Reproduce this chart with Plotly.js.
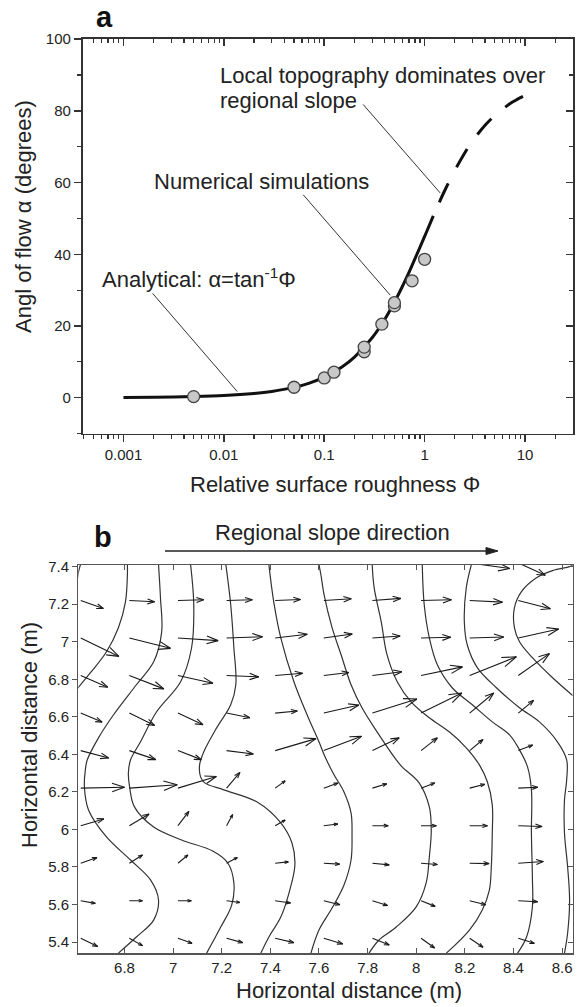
<!DOCTYPE html>
<html><head><meta charset="utf-8">
<script src="https://cdn.plot.ly/plotly-3.0.1.min.js"></script>
<style>html,body{margin:0;padding:0;background:#fff}#chart{width:578px;height:1007px}</style>
</head><body><div id="chart"></div>
<script>
// ---------- Panel a data ----------
const curveX = [0.001, 0.002, 0.005, 0.01, 0.02, 0.03, 0.05, 0.07, 0.1, 0.15, 0.2, 0.3, 0.4, 0.5, 0.6, 0.7, 0.8, 0.9, 1.0, 1.1, 1.22];
const curveY = [0.06, 0.11, 0.29, 0.57, 1.15, 1.72, 2.86, 4.0, 5.71, 8.53, 11.3, 16.7, 21.8, 26.6, 31.0, 35.0, 38.7, 42.0, 45.0, 47.7, 50.7];
const dashX = [1.4, 1.6, 2, 2.5, 3, 4, 5, 6, 7, 8, 9, 10.7];
const dashY = [54.5, 58, 63.4, 68.2, 71.6, 76, 78.7, 80.5, 81.9, 82.9, 83.7, 84.7];
const simX = [0.005, 0.05, 0.1, 0.125, 0.25, 0.25, 0.375, 0.5, 0.5, 0.75, 1.0];
const simY = [0.3, 2.9, 5.5, 7.1, 12.8, 14.1, 20.5, 25.6, 26.5, 32.6, 38.6];
const xTickVals = [0.001, 0.01, 0.1, 1, 10];
const xTickText = ['0.001', '0.01', '0.1', '1', '10'];
const labelTexts = ['Local topography dominates over', 'regional slope', 'Numerical simulations', 'Analytical: \u03b1=tan<sup>-1</sup>\u03a6'];
const labelX = [0.00873, 0.00873, 0.00192, 0.000583];   // left edge of each label line
const labelY = [90.0, 83.0, 60.2, 33.4];
const leaderX = [[0.244, 1.43], [0.0618, 0.454], [0.00195, 0.0136]];
const leaderY = [[81.8, 57.1], [56.6, 28.6], [29.1, 1.7]];

// ---------- Panel b data ----------
const gridX = [6.62, 6.82, 7.02, 7.22, 7.42, 7.62, 7.82, 8.02, 8.22, 8.42];
const gridY = [7.42, 7.22, 7.02, 6.82, 6.62, 6.42, 6.22, 6.02, 5.82, 5.62, 5.42];
const U = [
  [null, null, null, null, null, null, null, 0.150, 0.165, 0.111],
  [0.093, 0.104, 0.106, 0.106, 0.104, 0.113, 0.117, 0.125, 0.135, 0.132],
  [0.157, 0.169, 0.165, 0.148, 0.132, 0.117, 0.114, 0.122, 0.140, 0.166],
  [0.111, 0.142, 0.144, 0.132, 0.113, 0.103, 0.121, 0.170, 0.192, 0.128],
  [0.088, 0.104, 0.103, 0.096, 0.091, 0.144, 0.183, 0.168, 0.099, 0.063],
  [0.115, 0.109, 0.096, 0.110, 0.168, 0.155, 0.110, 0.067, 0.055, 0.059],
  [0.180, 0.197, 0.158, 0.055, 0.041, 0.058, 0.059, 0.056, 0.062, 0.080],
  [0.095, 0.081, 0.045, 0.025, 0.041, 0.058, 0.065, 0.063, 0.073, 0.098],
  [0.067, 0.054, 0.041, 0.044, 0.054, 0.065, 0.069, 0.067, 0.080, 0.103],
  [0.060, 0.054, 0.055, 0.055, 0.063, 0.066, 0.062, 0.058, 0.066, 0.080],
  [0.070, 0.054, 0.058, 0.066, 0.077, 0.078, 0.069, 0.056, 0.055, 0.066]
];
const V = [
  [null, null, null, null, null, null, null, 0.014, -0.030, -0.066],
  [-0.043, -0.007, 0.004, 0.004, 0.005, 0.009, 0.011, 0.004, -0.009, -0.044],
  [-0.098, -0.055, -0.014, 0.007, 0.020, 0.021, 0.011, 0.004, 0.005, 0.048],
  [-0.062, -0.071, -0.041, -0.007, 0.012, 0.016, 0.020, 0.046, 0.100, 0.117],
  [-0.048, -0.066, -0.062, -0.025, 0.011, 0.043, 0.075, 0.107, 0.107, 0.068],
  [-0.039, -0.048, -0.048, -0.018, 0.064, 0.076, 0.068, 0.068, 0.059, 0.030],
  [0.005, 0.018, 0.062, 0.084, 0.039, 0.027, 0.023, 0.028, 0.021, 0.005],
  [0.036, 0.062, 0.076, 0.059, 0.030, 0.009, 0.000, 0.000, 0.000, -0.004],
  [0.030, 0.044, 0.044, 0.030, 0.007, -0.005, -0.009, -0.007, -0.002, 0.009],
  [-0.014, 0.000, 0.000, -0.009, -0.012, -0.021, -0.025, -0.030, -0.021, -0.005],
  [-0.044, -0.039, -0.027, -0.023, -0.023, -0.030, -0.036, -0.052, -0.048, -0.027]
];
const contoursX = [
  [6.619, 6.610, 6.606],
  [6.812, 6.812, 6.804, 6.775, 6.726, 6.660, 6.602],
  [6.940, 6.948, 6.953, 6.920, 6.849, 6.755, 6.693, 6.647, 6.639, 6.635, 6.652, 6.726, 6.825, 6.907, 6.940, 6.920, 6.849, 6.775],
  [7.072, 7.085, 7.076, 7.031, 6.932, 6.866, 6.825, 6.816, 6.821, 6.841, 6.920, 7.035, 7.163, 7.225, 7.250, 7.241, 7.196, 7.138],
  [7.217, 7.237, 7.250, 7.258, 7.237, 7.179, 7.126, 7.109, 7.113, 7.130, 7.208, 7.344, 7.443, 7.489, 7.501, 7.480, 7.443, 7.394, 7.361],
  [7.394, 7.414, 7.443, 7.497, 7.551, 7.600, 7.625, 7.662, 7.703, 7.732, 7.736, 7.732, 7.703, 7.654, 7.600, 7.567],
  [7.600, 7.608, 7.621, 7.654, 7.691, 7.732, 7.777, 7.839, 7.918, 7.942, 8.012, 8.054, 8.062, 8.054, 8.041, 8.000, 7.918, 7.847, 7.806],
  [7.819, 7.827, 7.856, 7.880, 7.922, 7.979, 8.054, 8.136, 8.206, 8.260, 8.293, 8.313, 8.313, 8.309, 8.301, 8.272, 8.219, 8.124],
  [8.025, 8.033, 8.054, 8.087, 8.148, 8.231, 8.313, 8.384, 8.425, 8.458, 8.474, 8.474, 8.478, 8.478, 8.454, 8.417],
  [8.227, 8.206, 8.198, 8.210, 8.252, 8.330, 8.425, 8.507, 8.581, 8.619, 8.619, 8.610, 8.610, 8.623, 8.631, 8.623, 8.610],
  [8.650, 8.631, 8.561, 8.495, 8.433, 8.404, 8.404, 8.425, 8.478, 8.561, 8.645]
];
const contoursY = [
  [7.411, 7.368, 7.331],
  [7.411, 7.357, 7.213, 7.075, 6.947, 6.835, 6.744],
  [7.411, 7.235, 7.053, 6.893, 6.771, 6.611, 6.488, 6.371, 6.317, 6.227, 6.104, 5.960, 5.837, 5.731, 5.624, 5.517, 5.427, 5.341],
  [7.411, 7.197, 6.968, 6.787, 6.627, 6.467, 6.371, 6.301, 6.227, 6.120, 6.013, 5.944, 5.885, 5.821, 5.715, 5.597, 5.480, 5.341],
  [7.411, 7.197, 6.968, 6.771, 6.664, 6.541, 6.413, 6.344, 6.280, 6.248, 6.211, 6.147, 6.035, 5.928, 5.811, 5.677, 5.533, 5.427, 5.341],
  [7.411, 7.213, 7.021, 6.787, 6.611, 6.467, 6.387, 6.291, 6.200, 6.088, 5.971, 5.837, 5.704, 5.581, 5.464, 5.341],
  [7.411, 7.357, 7.251, 7.075, 6.931, 6.771, 6.648, 6.520, 6.371, 6.333, 6.248, 6.120, 5.997, 5.853, 5.715, 5.587, 5.480, 5.411, 5.341],
  [7.411, 7.288, 7.107, 6.931, 6.787, 6.680, 6.595, 6.520, 6.435, 6.344, 6.253, 6.131, 5.981, 5.800, 5.677, 5.571, 5.464, 5.341],
  [7.411, 7.197, 7.021, 6.877, 6.755, 6.664, 6.573, 6.504, 6.424, 6.333, 6.211, 5.981, 5.747, 5.587, 5.427, 5.341],
  [7.411, 7.288, 7.107, 6.984, 6.861, 6.755, 6.648, 6.573, 6.467, 6.371, 6.264, 6.157, 5.981, 5.800, 5.624, 5.448, 5.341],
  [7.410, 7.400, 7.379, 7.341, 7.267, 7.181, 7.075, 7.000, 6.915, 6.808, 6.712]
];

// ---------- styles ----------
const FONT = 'Liberation Sans, Arial, Helvetica, sans-serif';
const INK = '#222';
const AX_A = '#333';
const AX_B = '#555';
const W = 578, H = 1007;
const xRangeA = [-3.406, 1.475];
const yRangeA = [-10, 100];
const xRangeB = [6.61, 8.643];
const yRangeB = [5.34, 7.409];
const domXA = [82.7 / W, 572.7 / W], domYA = [1 - 433.5 / H, 1 - 39.2 / H];
const domXB = [78.3 / W, 572.5 / W], domYB = [1 - 953.3 / H, 1 - 565 / H];

const traces = [];
// panel a
traces.push({x: curveX, y: curveY, xaxis: 'x', yaxis: 'y', mode: 'lines', line: {color: '#111', width: 3, shape: 'spline'}, hoverinfo: 'skip', showlegend: false});
traces.push({x: dashX, y: dashY, xaxis: 'x', yaxis: 'y', mode: 'lines', line: {color: '#111', width: 3, dash: '21px,18px', shape: 'spline'}, hoverinfo: 'skip', showlegend: false});
leaderX.forEach((lx, i) => traces.push({x: lx, y: leaderY[i], xaxis: 'x', yaxis: 'y', mode: 'lines', line: {color: '#333', width: 1}, hoverinfo: 'skip', showlegend: false}));
traces.push({x: simX, y: simY, xaxis: 'x', yaxis: 'y', mode: 'markers', marker: {size: 12, color: '#c8c8c8', line: {color: '#444', width: 1.3}}, cliponaxis: false, hoverinfo: 'skip', showlegend: false});
// mirror axes helpers (invisible)
traces.push({x: [1], y: [0], xaxis: 'x3', yaxis: 'y', mode: 'markers', marker: {opacity: 0}, hoverinfo: 'skip', showlegend: false});
traces.push({x: [1], y: [0], xaxis: 'x', yaxis: 'y3', mode: 'markers', marker: {opacity: 0}, hoverinfo: 'skip', showlegend: false});

// panel b contours
contoursX.forEach((cx, i) => traces.push({x: cx, y: contoursY[i], xaxis: 'x2', yaxis: 'y2', mode: 'lines', line: {color: '#333', width: 1.2, shape: 'spline', smoothing: 1}, hoverinfo: 'skip', showlegend: false}));

// panel b quiver: shaft + two open barbs per arrow, built from U,V through the axis scales
const pxPerX = (domXB[1] - domXB[0]) * W / (xRangeB[1] - xRangeB[0]);
const pxPerY = (domYB[1] - domYB[0]) * H / (yRangeB[1] - yRangeB[0]);
const qx = [], qy = [];
const HEAD = 0.3, ANG = 19 * Math.PI / 180;
gridY.forEach((gy, r) => {
  gridX.forEach((gx, c) => {
    const u = U[r][c], v = V[r][c];
    if (u === null || v === null) return;
    const hx = gx + u, hy = gy + v;
    const dxp = u * pxPerX, dyp = v * pxPerY;
    const len = Math.hypot(dxp, dyp);
    const bx = -dxp / len, by = -dyp / len;
    const hl = HEAD * len;
    qx.push(gx, hx, null);
    qy.push(gy, hy, null);
    [ANG, -ANG].forEach(a => {
      const rx = bx * Math.cos(a) - by * Math.sin(a);
      const ry = bx * Math.sin(a) + by * Math.cos(a);
      qx.push(hx, hx + rx * hl / pxPerX, null);
      qy.push(hy, hy + ry * hl / pxPerY, null);
    });
  });
});
traces.push({x: qx, y: qy, xaxis: 'x2', yaxis: 'y2', mode: 'lines', line: {color: '#1a1a1a', width: 1.1}, connectgaps: false, hoverinfo: 'skip', showlegend: false});
traces.push({x: [7.5], y: [6.4], xaxis: 'x4', yaxis: 'y2', mode: 'markers', marker: {opacity: 0}, hoverinfo: 'skip', showlegend: false});
traces.push({x: [7.5], y: [6.4], xaxis: 'x2', yaxis: 'y4', mode: 'markers', marker: {opacity: 0}, hoverinfo: 'skip', showlegend: false});

const annotations = [];
const labelFont = {family: FONT, size: 22, color: INK};
// panel a labels
labelTexts.forEach((t, i) => annotations.push({
  xref: 'x', yref: 'y', x: Math.log10(labelX[i]), y: labelY[i], text: t, showarrow: false,
  xanchor: 'left', yanchor: 'middle', align: 'left', font: labelFont
}));
// axis titles
annotations.push({xref: 'paper', yref: 'paper', x: 335 / W, y: 1 - 484 / H, text: 'Relative surface roughness \u03a6', showarrow: false, xanchor: 'center', yanchor: 'middle', font: labelFont});
annotations.push({xref: 'paper', yref: 'paper', x: 23 / W, y: 1 - 217 / H, text: 'Angl of flow \u03b1 (degrees)', textangle: -90, showarrow: false, xanchor: 'center', yanchor: 'middle', font: labelFont});
annotations.push({xref: 'paper', yref: 'paper', x: 349 / W, y: 1 - 990 / H, text: 'Horizontal distance (m)', showarrow: false, xanchor: 'center', yanchor: 'middle', font: labelFont});
annotations.push({xref: 'paper', yref: 'paper', x: 29 / W, y: 1 - 735 / H, text: 'Horizontal distance (m)', textangle: -90, showarrow: false, xanchor: 'center', yanchor: 'middle', font: labelFont});
// panel letters and regional slope label
annotations.push({xref: 'paper', yref: 'paper', x: 104 / W, y: 1 - 17 / H, text: '<b>a</b>', showarrow: false, xanchor: 'center', yanchor: 'middle', font: {family: FONT, size: 29, color: '#111'}});
annotations.push({xref: 'paper', yref: 'paper', x: 103 / W, y: 1 - 537 / H, text: '<b>b</b>', showarrow: false, xanchor: 'center', yanchor: 'middle', font: {family: FONT, size: 29, color: '#111'}});
annotations.push({xref: 'paper', yref: 'paper', x: 332 / W, y: 1 - 532 / H, text: 'Regional slope direction', showarrow: false, xanchor: 'center', yanchor: 'middle', font: labelFont});

// regional slope arrow (decoration in paper coordinates)
const ay = 1 - 551 / H, tipX = 498 / W, baseX = 486 / W, hw = 3.5 / H;
const shapes = [
  {type: 'line', xref: 'paper', yref: 'paper', x0: 165 / W, x1: 488 / W, y0: ay, y1: ay, line: {color: '#222', width: 1.3}},
  {type: 'path', xref: 'paper', yref: 'paper', path: `M${tipX},${ay} L${baseX},${ay + hw} L${baseX},${ay - hw} Z`, fillcolor: '#222', line: {color: '#222', width: 1}}
];

const tickFont = {family: FONT, size: 15, color: INK};

const layout = {
  width: W, height: H,
  margin: {l: 0, r: 0, t: 0, b: 0},
  paper_bgcolor: '#fff', plot_bgcolor: '#fff',
  font: {family: FONT, color: INK},
  showlegend: false,
  xaxis: {
    domain: domXA, anchor: 'y', type: 'log', range: xRangeA,
    tickmode: 'array', tickvals: xTickVals, ticktext: xTickText,
    ticks: 'outside', ticklen: 7, tickwidth: 1.5, tickcolor: AX_A,
    minor: {ticks: 'outside', ticklen: 4, tickwidth: 1.2, tickcolor: AX_A, dtick: 'D1', showgrid: false},
    showline: true, linecolor: AX_A, linewidth: 1.8, showgrid: false, zeroline: false,
    tickfont: tickFont
  },
  xaxis3: {
    overlaying: 'x', anchor: 'y', side: 'top', type: 'log', range: xRangeA,
    tickmode: 'array', tickvals: xTickVals, showticklabels: false,
    ticks: 'inside', ticklen: 7, tickwidth: 1.5, tickcolor: AX_A,
    minor: {ticks: 'inside', ticklen: 4, tickwidth: 1.2, tickcolor: AX_A, dtick: 'D1', showgrid: false},
    showline: true, linecolor: AX_A, linewidth: 1.8, showgrid: false, zeroline: false
  },
  yaxis: {
    domain: domYA, anchor: 'x', range: yRangeA,
    tick0: 0, dtick: 20, ticks: 'outside', ticklen: 7, tickwidth: 1.5, tickcolor: AX_A,
    minor: {tick0: 0, dtick: 10, ticks: 'outside', ticklen: 4, tickwidth: 1.2, tickcolor: AX_A, showgrid: false},
    showline: true, linecolor: AX_A, linewidth: 1.8, showgrid: false, zeroline: false,
    tickfont: tickFont
  },
  yaxis3: {
    overlaying: 'y', anchor: 'x', side: 'right', range: yRangeA,
    tick0: 0, dtick: 20, showticklabels: false,
    ticks: 'inside', ticklen: 7, tickwidth: 1.5, tickcolor: AX_A,
    minor: {tick0: 0, dtick: 10, ticks: 'inside', ticklen: 4, tickwidth: 1.2, tickcolor: AX_A, showgrid: false},
    showline: true, linecolor: AX_A, linewidth: 1.8, showgrid: false, zeroline: false
  },
  xaxis2: {
    domain: domXB, anchor: 'y2', range: xRangeB,
    tick0: 6.8, dtick: 0.2, ticks: 'inside', ticklen: 5, tickwidth: 1, tickcolor: AX_B,
    showline: true, linecolor: AX_B, linewidth: 1.2, showgrid: false, zeroline: false,
    tickfont: tickFont
  },
  xaxis4: {
    overlaying: 'x2', anchor: 'y2', side: 'top', range: xRangeB,
    tick0: 6.8, dtick: 0.2, showticklabels: false, ticks: 'inside', ticklen: 5, tickwidth: 1, tickcolor: AX_B,
    showline: true, linecolor: AX_B, linewidth: 1.2, showgrid: false, zeroline: false
  },
  yaxis2: {
    domain: domYB, anchor: 'x2', range: yRangeB,
    tick0: 5.4, dtick: 0.2, ticks: 'outside', ticklen: 5, tickwidth: 1, tickcolor: AX_B,
    showline: true, linecolor: AX_B, linewidth: 1.2, showgrid: false, zeroline: false,
    tickfont: tickFont
  },
  yaxis4: {
    overlaying: 'y2', anchor: 'x2', side: 'right', range: yRangeB,
    tick0: 5.4, dtick: 0.2, showticklabels: false, ticks: 'inside', ticklen: 5, tickwidth: 1, tickcolor: AX_B,
    showline: true, linecolor: AX_B, linewidth: 1.2, showgrid: false, zeroline: false
  },
  annotations: annotations,
  shapes: shapes
};

Plotly.newPlot('chart', traces, layout, {displayModeBar: false, staticPlot: true});
</script>
</body></html>
